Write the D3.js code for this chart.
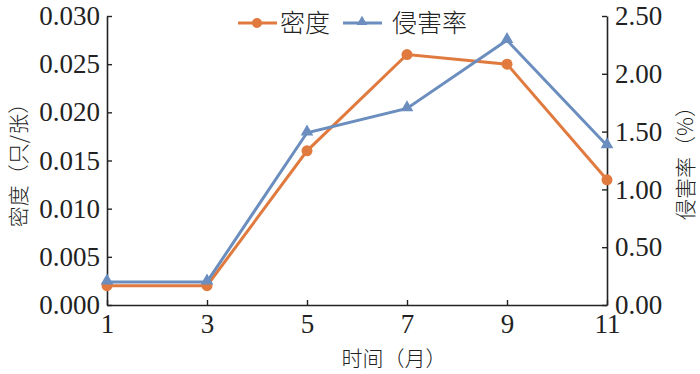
<!DOCTYPE html>
<html>
<head>
<meta charset="utf-8">
<script src="https://cdn.jsdelivr.net/npm/d3@7"></script>
<style>
  body { margin: 0; background: #fff; }
  svg { display: block; }
</style>
</head>
<body>
<div id="chart"></div>
<script>
// data
var months = [1, 3, 5, 7, 9, 11];
var density = [0.002, 0.002, 0.016, 0.026, 0.025, 0.013];
var damageRate = [0.20, 0.20, 1.49, 1.70, 2.29, 1.38];
var leftTicks = [0, 0.005, 0.010, 0.015, 0.020, 0.025, 0.030];
var rightTicks = [0, 0.5, 1.0, 1.5, 2.0, 2.5];

var width = 700, height = 374;
var margin = { top: 16, bottom: 69, left: 107, right: 93 };
var orange = '#e07a3f', blue = '#6b8ebf';
var serif = '"Liberation Serif", "Times New Roman", serif';
var cjk = '"Noto Sans CJK SC", sans-serif';

var svg = d3.select('#chart').append('svg')
    .attr('width', width)
    .attr('height', height);

var x = d3.scaleLinear().domain([1, 11]).range([margin.left, width - margin.right]);
var yL = d3.scaleLinear().domain([0, 0.03]).range([height - margin.bottom, margin.top]);
var yR = d3.scaleLinear().domain([0, 2.5]).range([height - margin.bottom, margin.top]);

// axes, ticks pointing inward
var xAxis = svg.append('g')
    .attr('transform', 'translate(0,' + (height - margin.bottom) + ')')
    .call(d3.axisBottom(x).tickValues(months).tickSize(-5).tickPadding(10).tickSizeOuter(0));
var leftAxis = svg.append('g')
    .attr('transform', 'translate(' + margin.left + ',0)')
    .call(d3.axisLeft(yL).tickValues(leftTicks).tickFormat(d3.format('.3f')).tickSize(-5).tickPadding(7).tickSizeOuter(0));
var rightAxis = svg.append('g')
    .attr('transform', 'translate(' + (width - margin.right) + ',0)')
    .call(d3.axisRight(yR).tickValues(rightTicks).tickFormat(d3.format('.2f')).tickSize(-5).tickPadding(8).tickSizeOuter(0));

[xAxis, leftAxis, rightAxis].forEach(function(a) {
    a.selectAll('path.domain').attr('stroke', '#222').attr('stroke-width', 1.6);
    a.selectAll('.tick line').attr('stroke', '#222').attr('stroke-width', 1.4);
    a.selectAll('text')
        .attr('fill', '#222')
        .style('font-family', serif)
        .style('font-size', '27px');
});
xAxis.selectAll('text').attr('y', 9);

// axis titles
svg.append('text')
    .attr('x', 394).attr('y', 366)
    .attr('text-anchor', 'middle')
    .style('font-family', cjk).style('font-size', '21px').style('font-weight', 300)
    .attr('fill', '#222')
    .text('时间（月）');
svg.append('text')
    .attr('transform', 'translate(26,160) rotate(-90)')
    .attr('text-anchor', 'middle')
    .style('font-family', cjk).style('font-size', '21px').style('font-weight', 300)
    .attr('fill', '#222')
    .text('密度（只/张）');
svg.append('text')
    .attr('transform', 'translate(693,158) rotate(-90)')
    .attr('text-anchor', 'middle')
    .style('font-family', cjk).style('font-size', '21px').style('font-weight', 300)
    .attr('fill', '#222')
    .text('侵害率（%）');

// lines
var densityLine = d3.line().x(function(d, i) { return x(months[i]); }).y(function(d) { return yL(d); });
var rateLine = d3.line().x(function(d, i) { return x(months[i]); }).y(function(d) { return yR(d); });

svg.append('path').datum(density)
    .attr('d', densityLine).attr('fill', 'none')
    .attr('stroke', orange).attr('stroke-width', 3);
svg.append('path').datum(damageRate)
    .attr('d', rateLine).attr('fill', 'none')
    .attr('stroke', blue).attr('stroke-width', 3);

var tri = d3.symbol().type(d3.symbolTriangle).size(70);

svg.append('g').selectAll('circle')
    .data(density).enter().append('circle')
    .attr('cx', function(d, i) { return x(months[i]); })
    .attr('cy', function(d) { return yL(d); })
    .attr('r', 5.5).attr('fill', orange);
svg.append('g').selectAll('path')
    .data(damageRate).enter().append('path')
    .attr('d', tri)
    .attr('transform', function(d, i) { return 'translate(' + x(months[i]) + ',' + (yR(d) - 1) + ')'; })
    .attr('fill', blue);

// legend
var legend = svg.append('g').attr('transform', 'translate(0,23)');
legend.append('line').attr('x1', 238).attr('x2', 277).attr('y1', 0).attr('y2', 0)
    .attr('stroke', orange).attr('stroke-width', 3);
legend.append('circle').attr('cx', 257).attr('cy', 0).attr('r', 5).attr('fill', orange);
legend.append('text').attr('x', 280).attr('y', 0).attr('dy', '0.35em')
    .style('font-family', cjk).style('font-size', '25px').style('font-weight', 300)
    .attr('fill', '#222').text('密度');
legend.append('line').attr('x1', 343).attr('x2', 382).attr('y1', 0).attr('y2', 0)
    .attr('stroke', blue).attr('stroke-width', 3);
legend.append('path').attr('d', d3.symbol().type(d3.symbolTriangle).size(50))
    .attr('transform', 'translate(362,-1)').attr('fill', blue);
legend.append('text').attr('x', 392).attr('y', 0).attr('dy', '0.35em')
    .style('font-family', cjk).style('font-size', '25px').style('font-weight', 300)
    .attr('fill', '#222').text('侵害率');
</script>
</body>
</html>
